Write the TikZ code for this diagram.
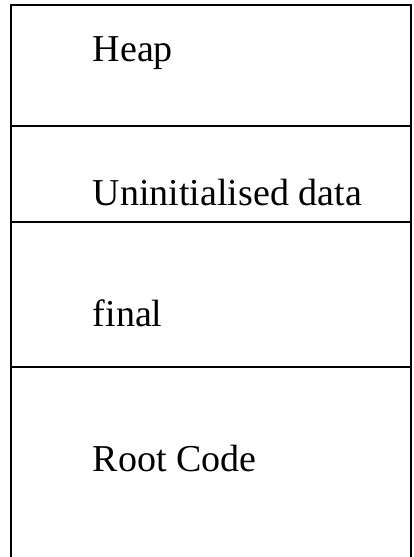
\documentclass[tikz,border=0pt]{standalone}
\usepackage{fontspec}
\setmainfont{Liberation Serif}
\newcommand{\MemLeft}{11}
\newcommand{\MemRight}{411}
\newcommand{\Divider}[2]{
	\coordinate (#1L) at (\MemLeft,#2);
	\coordinate (#1R) at (\MemRight,#2);
	\draw (#1L) -- (#1R);
}
\tikzset{
	memlabel/.style={anchor=base west, inner sep=0pt, font=\fontsize{38}{44}\selectfont},
}

\begin{document}
\begin{tikzpicture}[x=1pt,y=-1pt,line width=1.6pt]
		\useasboundingbox (0,0) rectangle (414,557);
		\coordinate (TL) at (\MemLeft,5);
		\coordinate (TR) at (\MemRight,5);
		\coordinate (BL) at (\MemLeft,557);
		\coordinate (BR) at (\MemRight,557);
		\draw (BL) -- (TL) -- (TR) -- (BR);
		\Divider{D1}{126}
		\Divider{D2}{222}
		\Divider{D3}{367}
		\node[memlabel] (heap) at (92,61) {Heap};
		\node[memlabel] (uninit) at (92,205) {Uninitialised data};
		\node[memlabel] (final) at (92,326) {final};
		\node[memlabel] (root) at (92,471) {Root Code};
	\end{tikzpicture}
\end{document}
